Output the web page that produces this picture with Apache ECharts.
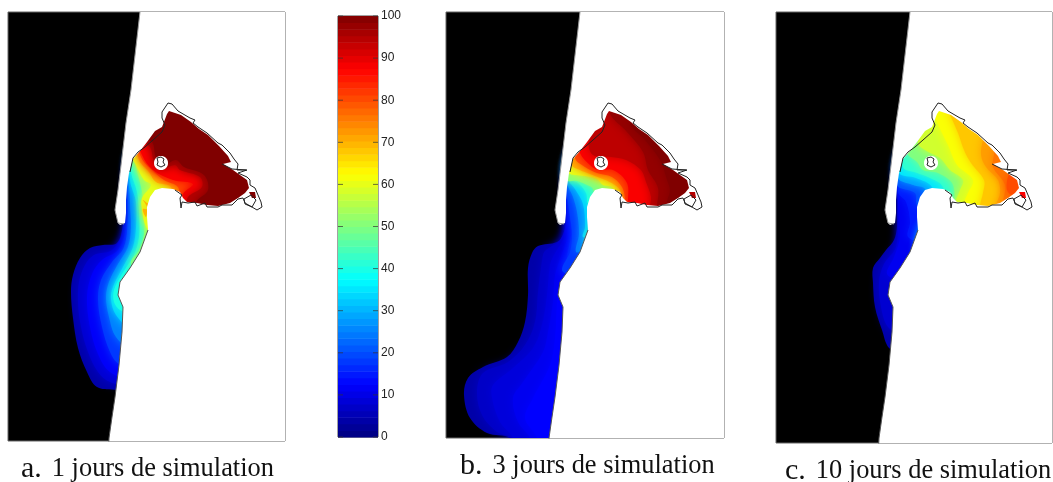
<!DOCTYPE html>
<html><head><meta charset="utf-8">
<style>html,body{margin:0;padding:0;background:#fff}#c{width:1053px;height:482px}</style>
<script src="https://cdn.jsdelivr.net/npm/echarts@6/dist/echarts.min.js"></script>
</head><body><div id="c"></div>
<script>
// Tick labels and captions
const colorbarTicks = [0,10,20,30,40,50,60,70,80,90,100];
const captions = [['a.','1 jours de simulation'],['b.','3 jours de simulation'],['c.','10 jours de simulation']];

// Map geometry (map units)
const land = [[134,-5],[300,-5],[300,445],[102,445],[103,426],[106,405],[109,385],[113,353],[116,320],[117,295],[112,283],[114,270],[124,256],[134,240],[142,218],
[141,205],[141,195],[144,185],[149,178],[156,176],[167,177],[174,180],[177,186],[181,190],[191,191],[201,193],[212,194],[224,191],[232,186],[239,181],[243,176],[241,168],[227,158],[217,152],[225,150],[222,144],[213,134],[202,123],[193,117],[185,110],[175,103],[163,99],[161,102],[156,115],[149,119],[141,130],[134,139],[127,147],[123,161],[121,175],[120,188],[120,201],[119,211],[114,213],[112,211],[109,198],[112,178],[116,145],[120,111],[125,78],[134,0]];
const seaCoast = [[134,0],[125,78],[120,111],[116,145],[112,178],[109,198],[112,211],[118,212]];
const eastShore = [[142,218],[134,240],[124,256],[114,270],[112,283],[117,295],[116,320],[113,353],[109,385],[106,405],[103,426],[102,445]];
const bayShore = [[124,160],[127,146],[132,140],[139,135],[147,128],[156,120],[159,113],[156,106],[156,100],[162,91],[166,92],[172,99],[184,106],[189,108],[187,111],[192,115],[201,121],[212,131],[216,133],[224,141],[228,147],[232,152],[231,158],[241,158],[232,161],[241,165],[244,168],[244,173],[249,176],[252,183],[255,190],[256,195],[251,198],[246,195],[239,191],[237,186],[232,187],[226,193],[216,193],[212,195],[201,195],[199,191],[191,194],[189,190],[182,191],[176,190],[175,196],[174,186],[176,183],[169,178]];
const notch = [[216,152],[226,157],[240,158]];
const eastLoop = [[238,187],[245,183],[250,188],[246,195],[239,192],[238,187]];
const islandHalo = [[155,144],[160,146],[162,151],[160,156],[155,158],[150,156],[148,151],[150,146]];
const islandRim = [[151,146],[155,145],[158,147],[157,150],[159,153],[155,155],[151,153],[152,150],[150,148],[151,146]];
const pond = [[243,180],[249,180],[250,186],[246,186]];

// Shared closure of the contour rings, through the land
const T = [[150,300],[150,210],[260,200],[260,150],[160,90],[125,140]];
const T2 = [[260,200],[260,150],[160,90],[132,125]];

// Contours: value, ring
const bandsA = [
 [4,[[117,213],[111,231],[97,233],[84,236],[74,246],[67,263],[65,280],[67,306],[72,336],[81,360],[91,375],[111,378],[125,380],...T,[119,190]]],
 [8,[[118,218],[106,238],[88,243],[79,253],[73,270],[72,290],[75,315],[82,340],[92,360],[104,370],[125,372],...T,[120,190]]],
 [12,[[120,215],[112,238],[96,248],[86,262],[81,285],[84,315],[92,342],[104,360],[125,365],...T]],
 [18,[[122,205],[118,235],[106,250],[95,268],[92,288],[96,315],[104,340],[113,352],[125,352],...T]],
 [25,[[124,190],[125,215],[122,235],[112,252],[103,270],[100,285],[103,305],[110,325],[125,335],...T]],
 [33,[[124,168],[130,190],[130,215],[127,235],[117,255],[107,275],[105,287],[110,303],[125,315],...T]],
 [40,[[125,160],[131,180],[133,200],[133,225],[128,243],[116,262],[108,278],[108,290],[114,298],[125,302],...T]],
 [50,[[129,152],[135,175],[138,195],[138,222],[133,238],[125,252],...T]],
 [60,[[130,153],[138,168],[145,173],[136,186],[136,198],[140,215],[150,230],...T]],
 [70,[[137,188],[141,195],[140,205],[137,197],[150,200]]],
 [70,[[133,148],[143,160],[150,170],[165,175],[165,195],...T2]],
 [80,[[135,145],[146,158],[158,168],[172,175],[176,190],...T2]],
 [88,[[136,143],[147,158],[167,168],[187,172],[177,182],[178,195],...T2]],
 [95,[[144,135],[148,150],[154,158],[169,153],[174,158],[194,165],[196,175],[182,185],[182,195],...T2]],
 [100,[[146,130],[150,146],[158,153],[170,148],[178,155],[198,163],[202,178],[190,190],[190,200],...T2]]
];
const bandsB = [
 [4,[[119,221],[111,230],[92,234],[86,241],[82,256],[82,283],[79,310],[72,330],[61,345],[37,355],[22,366],[18,383],[24,406],[41,421],[64,426],[64,440],[120,440],[130,350],...T]],
 [7,[[120,210],[114,228],[100,238],[97,243],[92,280],[89,310],[79,333],[62,350],[37,361],[31,380],[36,403],[51,420],[66,426],[66,440],[120,440],[130,350],...T]],
 [9,[[121,200],[118,225],[108,243],[104,253],[101,283],[96,313],[87,336],[67,356],[47,373],[46,386],[54,410],[67,426],[67,440],[120,440],[130,350],...T]],
 [11,[[121,190],[121,225],[113,250],[109,263],[107,290],[102,320],[97,340],[77,370],[67,386],[72,410],[84,426],[84,440],[120,440],[130,350],...T]],
 [12.5,[[122,180],[124,222],[118,255],[112,280],[109,326],[104,353],[87,386],[79,406],[91,426],[91,440],[120,440],[130,350],...T]],
 [15,[[120,178],[123,200],[125,222],[121,250],[128,260],[150,260],...T]],
 [18,[[120,175],[122,190],[124,205],[126,222],[124,240],[116,258],[125,265],...T]],
 [25,[[121,170],[127,185],[131,200],[133,222],[130,240],[140,240],...T]],
 [33,[[121,165],[129,177],[137,192],[139,215],[137,225],[150,225],...T]],
 [40,[[121,165],[132,171],[140,181],[142,192],[150,195],...T]],
 [50,[[121,168],[131,169],[141,173],[147,177],[149,195],...T]],
 [60,[[123,161],[129,163],[139,164],[151,167],[157,173],[167,176],[167,200],...T2]],
 [70,[[126,153],[134,158],[144,162],[157,167],[169,173],[175,180],[175,200],...T2]],
 [80,[[129,146],[139,155],[151,161],[166,165],[176,175],[179,186],[180,200],...T2]],
 [88,[[134,141],[144,153],[152,158],[167,158],[181,171],[182,190],[182,200],...T2]],
 [94,[[143,130],[147,143],[165,145],[180,148],[195,158],[200,170],[205,185],[205,200],[260,200],[260,150],[160,90]]],
 [98,[[164,102],[181,120],[197,140],[202,158],[212,176],[211,195],[211,200],[260,200],[260,150],[200,100],[170,95]]],
 [100,[[184,111],[199,128],[214,148],[221,168],[224,178],[222,193],[260,200],[260,150],[200,100]]]
];
const bandsC = [
 [4,[[121,200],[121,215],[118,228],[110,238],[104,246],[97,256],[97,271],[99,295],[106,318],[113,336],[125,340],...T]],
 [8,[[122,205],[120,235],[108,252],[103,270],[105,295],[112,315],[125,320],...T]],
 [11,[[122,190],[124,225],[118,245],[111,262],[125,270],...T]],
 [15,[[122,180],[130,190],[134,210],[132,225],[150,235],...T]],
 [20,[[121,173],[139,181],[141,193],[150,195],...T]],
 [28,[[122,166],[137,173],[149,177],[150,195],...T]],
 [35,[[123,161],[140,166],[156,175],[156,195],...T]],
 [42,[[127,155],[141,161],[154,166],[167,175],[167,195],...T2]],
 [50,[[131,141],[141,150],[147,158],[162,161],[176,171],[179,188],[179,200],...T2]],
 [58,[[142,131],[149,138],[164,146],[174,158],[187,168],[184,178],[179,191],[179,200],[260,200],[260,150],[160,90],[150,105]]],
 [62,[[160,108],[166,121],[172,133],[181,153],[197,168],[192,181],[187,193],[187,200],[260,200],[260,150],[165,92],[155,95]]],
 [68,[[175,105],[182,121],[188,138],[195,151],[208,168],[207,181],[204,193],[204,200],[260,200],[260,150],[170,95]]],
 [72,[[207,128],[205,143],[210,155],[222,168],[224,181],[220,193],[220,200],[260,200],[260,150],[210,120]]],
 [76,[[218,143],[217,155],[229,173],[227,190],[227,200],[260,200],[260,150],[220,135]]],
 [80,[[235,160],[231,178],[241,185],[250,175]]]
];
const pondValues = [100,95,88];

function jet(v){
  const t=v/100,c=x=>Math.round(255*Math.max(0,Math.min(1,x)));
  return `rgb(${c(Math.min(4*t-1.5,-4*t+4.5))},${c(Math.min(4*t-.5,-4*t+3.5))},${c(Math.min(4*t+.5,-4*t+2.5))})`;
}
const panels = [
 {bands:bandsA,grid:{left:8,top:12,width:277,height:429},x:[2,279],y:[0,429]},
 {bands:bandsB,grid:{left:446,top:12,width:278,height:426},x:[0,278],y:[0,426]},
 {bands:bandsC,grid:{left:776,top:12,width:276,height:431},x:[0,276],y:[0,431]}
];
const grids=[],xAxes=[],yAxes=[],series=[];
function polySeries(g,rings,styleOf,smooth,z){
  return {type:'custom',coordinateSystem:'cartesian2d',xAxisIndex:g,yAxisIndex:g,clip:true,z,silent:true,animation:false,
    data:rings.map((r,i)=>[i]),
    renderItem:(p,api)=>{const i=api.value(0);
      return {type:'polygon',shape:{points:rings[i].map(q=>api.coord(q)),smooth},style:styleOf(i)};}};
}
function lineSeries(g,pts,color,width,z){
  return {type:'line',xAxisIndex:g,yAxisIndex:g,data:pts,showSymbol:false,symbol:'none',clip:true,z,silent:true,animation:false,
    lineStyle:{color,width}};
}
panels.forEach((P,g)=>{
  grids.push({...P.grid,show:true,backgroundColor:'#000',borderColor:'#666',borderWidth:1});
  xAxes.push({type:'value',gridIndex:g,min:P.x[0],max:P.x[1],show:false});
  yAxes.push({type:'value',gridIndex:g,min:P.y[0],max:P.y[1],inverse:true,show:false});
  series.push(polySeries(g,P.bands.map(b=>b[1]),i=>{const col=jet(P.bands[i][0]);
    return i===0?{fill:col}:{fill:col,shadowBlur:10,shadowColor:col};},0.35,2));
  series.push(polySeries(g,[land],()=>({fill:'#fff'}),0,3));
  series.push(polySeries(g,[pond],()=>({fill:jet(pondValues[g])}),0,4));
  series.push(polySeries(g,[islandHalo],()=>({fill:'#fff'}),0.4,4));
  series.push(lineSeries(g,seaCoast,'#999',1,5));
  series.push(lineSeries(g,eastShore,'#555',1,5));
  series.push(lineSeries(g,bayShore,'#222',1,5));
  series.push(lineSeries(g,notch,'#222',1,5));
  series.push(lineSeries(g,eastLoop,'#222',1,5));
  series.push(lineSeries(g,islandRim,'#222',1,5));
});
// Colorbar
const cb=3, steps=64;
grids.push({left:338,top:16,width:40,height:421,show:true,borderColor:'#444',borderWidth:1,backgroundColor:'#fff'});
xAxes.push({type:'value',gridIndex:cb,min:0,max:1,show:false});
yAxes.push({type:'value',gridIndex:cb,min:0,max:100,interval:10,position:'right',
  axisLine:{show:false,onZero:false},splitLine:{show:false},axisTick:{show:false},
  axisLabel:{show:true,color:'#222',fontFamily:'Liberation Sans',fontSize:12,margin:3,padding:[4,0,0,0],
    formatter:v=>colorbarTicks.includes(v)?String(v):''}});
series.push({type:'custom',coordinateSystem:'cartesian2d',xAxisIndex:cb,yAxisIndex:cb,silent:true,animation:false,z:2,
  data:Array.from({length:steps},(_,i)=>[i]),
  renderItem:(p,api)=>{const i=api.value(0);
    const a=api.coord([0,(i+1)*100/steps]),b=api.coord([1,i*100/steps]);
    return {type:'rect',shape:{x:a[0],y:a[1],width:b[0]-a[0],height:b[1]-a[1]+0.5},style:{fill:jet((i+.5)*100/steps)}};}});
series.push({type:'custom',coordinateSystem:'cartesian2d',xAxisIndex:cb,yAxisIndex:cb,silent:true,animation:false,z:3,
  data:colorbarTicks.map(v=>[v]),
  renderItem:(p,api)=>{const v=api.value(0);
    const l=api.coord([0,v]),r=api.coord([1,v]);
    const seg=(x1,x2)=>({type:'line',shape:{x1,y1:l[1],x2,y2:l[1]},style:{stroke:'#333',lineWidth:1,opacity:.7}});
    return {type:'group',children:[seg(l[0],l[0]+5),seg(r[0]-5,r[0])]};}});
const capPos=[[21,454],[460,451],[785,456]];
const title=captions.map((c,i)=>({text:`{l|${c[0]}} {t|${c[1]}}`,left:capPos[i][0],top:capPos[i][1],padding:0,
  textStyle:{fontWeight:'normal',rich:{l:{fontFamily:'Liberation Serif',fontSize:30,fontWeight:'normal',color:'#111',padding:[0,5,0,0]},t:{fontFamily:'Liberation Serif',fontSize:26.4,fontWeight:'normal',color:'#111'}}}}));
const chart=echarts.init(document.getElementById('c'),null,{renderer:'canvas'});
chart.setOption({animation:false,backgroundColor:'#fff',title,grid:grids,xAxis:xAxes,yAxis:yAxes,series});
</script></body></html>
